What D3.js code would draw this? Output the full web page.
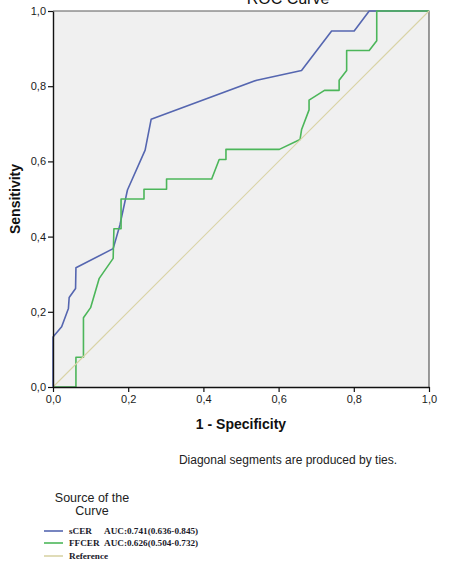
<!DOCTYPE html>
<html>
<head>
<meta charset="utf-8">
<script src="https://cdn.jsdelivr.net/npm/d3@7"></script>
<style>
  html, body { margin: 0; padding: 0; background: #ffffff; }
  svg { display: block; }
</style>
</head>
<body>
<svg id="chart" width="450" height="572"></svg>
<script>
// ---- data ----
const titleText = "ROC Curve";
const xAxisTitle = "1 - Specificity";
const yAxisTitle = "Sensitivity";
const footnote = "Diagonal segments are produced by ties.";
const tickValues = [0, 0.2, 0.4, 0.6, 0.8, 1.0];
const tickLabels = ["0,0", "0,2", "0,4", "0,6", "0,8", "1,0"];

const sCER_fpr = [0, 0, 0.023, 0.041, 0.043, 0.06, 0.061, 0.16, 0.178, 0.198, 0.245, 0.261, 0.542, 0.661, 0.741, 0.801, 0.841, 1];
const sCER_tpr = [0, 0.133, 0.16, 0.209, 0.238, 0.262, 0.317, 0.368, 0.431, 0.524, 0.63, 0.712, 0.816, 0.842, 0.947, 0.947, 1, 1];

const FFCER_fpr = [0, 0.061, 0.061, 0.081, 0.081, 0.1, 0.123, 0.16, 0.162, 0.181, 0.181, 0.242, 0.242, 0.302, 0.302, 0.422, 0.442, 0.46, 0.46, 0.602, 0.657, 0.661, 0.681, 0.681, 0.722, 0.761, 0.761, 0.781, 0.781, 0.841, 0.861, 0.861, 1];
const FFCER_tpr = [0, 0, 0.079, 0.079, 0.184, 0.211, 0.289, 0.342, 0.421, 0.421, 0.5, 0.5, 0.526, 0.526, 0.553, 0.553, 0.605, 0.605, 0.632, 0.632, 0.658, 0.684, 0.737, 0.763, 0.789, 0.789, 0.816, 0.842, 0.895, 0.895, 0.921, 1, 1];

const ref_x = [0, 1];
const ref_y = [0, 1];

const legendNames = ["sCER", "FFCER", "Reference"];
const legendAUC = ["AUC:0.741(0.636-0.845)", "AUC:0.626(0.504-0.732)", ""];
const colors = ["#5566b0", "#4cb65a", "#d9d3a6"];

// ---- layout ----
const svg = d3.select("#chart");
const pLeft = 53, pRight = 429, pTop = 11, pBottom = 387;

const x = d3.scaleLinear().domain([0, 1]).range([pLeft, pRight]);
const y = d3.scaleLinear().domain([0, 1]).range([pBottom, pTop]);

// plot background
svg.append("rect")
  .attr("x", x(0)).attr("y", y(1))
  .attr("width", x(1) - x(0)).attr("height", y(0) - y(1))
  .attr("fill", "#f0f0f0");

// frame (top and right)
svg.append("path")
  .attr("d", `M${x(0)},${y(1)}H${x(1)}V${y(0)}`)
  .attr("fill", "none").attr("stroke", "#5a5a5a").attr("stroke-width", 1.2);

// curves
const line = d3.line().x(d => x(d[0])).y(d => y(d[1]));
const series = [
  d3.zip(sCER_fpr, sCER_tpr),
  d3.zip(FFCER_fpr, FFCER_tpr),
  d3.zip(ref_x, ref_y)
];
series.forEach((s, i) => {
  svg.append("path")
    .datum(s)
    .attr("d", line)
    .attr("fill", "none")
    .attr("stroke", colors[i])
    .attr("stroke-width", i === 2 ? 1.1 : 1.6)
    .attr("stroke-linejoin", "round");
});

// axes
const fmt = d => tickLabels[tickValues.indexOf(d)];
const xAxis = svg.append("g")
  .attr("transform", `translate(0,${y(0)})`)
  .call(d3.axisBottom(x).tickValues(tickValues).tickFormat(fmt).tickSize(5).tickSizeOuter(0));
const yAxis = svg.append("g")
  .attr("transform", `translate(${x(0)},0)`)
  .call(d3.axisLeft(y).tickValues(tickValues).tickFormat(fmt).tickSize(5).tickSizeOuter(0));

[xAxis, yAxis].forEach(g => {
  g.select(".domain").attr("stroke", "#111").attr("stroke-width", 1.4);
  g.selectAll(".tick line").attr("stroke", "#111").attr("stroke-width", 1.2);
  g.selectAll(".tick text")
    .attr("font-family", "Liberation Sans, Arial, sans-serif")
    .attr("font-size", 11).attr("fill", "#1a1a1a");
});
xAxis.selectAll(".tick text").attr("dy", "0.71em").attr("y", 8);
yAxis.selectAll(".tick text").attr("x", -7);

// title (clipped at top, as in the reference)
svg.append("text")
  .attr("x", 288).attr("y", 4)
  .attr("text-anchor", "middle")
  .attr("font-family", "Liberation Sans, Arial, sans-serif")
  .attr("font-size", 16).attr("fill", "#111")
  .text(titleText);

// axis titles
svg.append("text")
  .attr("x", (pLeft + pRight) / 2).attr("y", 429)
  .attr("text-anchor", "middle")
  .attr("font-family", "Liberation Sans, Arial, sans-serif")
  .attr("font-size", 14).attr("font-weight", "bold").attr("fill", "#111")
  .text(xAxisTitle);

svg.append("text")
  .attr("transform", `translate(20,${(pTop + pBottom) / 2}) rotate(-90)`)
  .attr("text-anchor", "middle")
  .attr("font-family", "Liberation Sans, Arial, sans-serif")
  .attr("font-size", 14).attr("font-weight", "bold").attr("fill", "#111")
  .text(yAxisTitle);

// footnote
svg.append("text")
  .attr("x", 288).attr("y", 464)
  .attr("text-anchor", "middle")
  .attr("font-family", "Liberation Sans, Arial, sans-serif")
  .attr("font-size", 12).attr("fill", "#222")
  .text(footnote);

// legend
const lg = svg.append("g");
lg.append("text")
  .attr("x", 92).attr("y", 502)
  .attr("text-anchor", "middle")
  .attr("font-family", "Liberation Sans, Arial, sans-serif")
  .attr("font-size", 12.5).attr("fill", "#222")
  .text("Source of the");
lg.append("text")
  .attr("x", 92).attr("y", 515)
  .attr("text-anchor", "middle")
  .attr("font-family", "Liberation Sans, Arial, sans-serif")
  .attr("font-size", 12.5).attr("fill", "#222")
  .text("Curve");

const rowY = [531, 543, 556];
legendNames.forEach((name, i) => {
  lg.append("line")
    .attr("x1", 44).attr("x2", 63)
    .attr("y1", rowY[i]).attr("y2", rowY[i])
    .attr("stroke", colors[i]).attr("stroke-width", 1.6);
  lg.append("text")
    .attr("x", 69).attr("y", rowY[i] + 3)
    .attr("font-family", "Liberation Serif, Times New Roman, serif")
    .attr("font-size", 9.2).attr("font-weight", "bold").attr("fill", "#1a1a2a")
    .text(name);
  if (legendAUC[i]) {
    lg.append("text")
      .attr("x", 104).attr("y", rowY[i] + 3)
      .attr("font-family", "Liberation Serif, Times New Roman, serif")
      .attr("font-size", 9.2).attr("font-weight", "bold").attr("fill", "#1a1a2a")
      .text(legendAUC[i]);
  }
});
</script>
</body>
</html>
